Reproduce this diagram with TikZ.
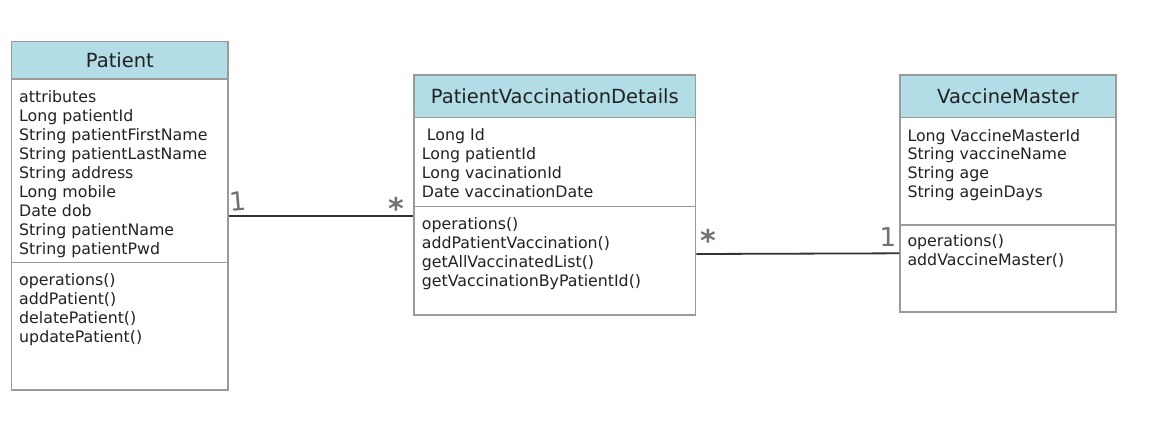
\documentclass[tikz,border=0pt]{standalone}
\usepackage{fontspec}
\setmainfont{DejaVu Sans}
\definecolor{hdrblue}{HTML}{B2DCE6}
\definecolor{boxgray}{HTML}{9A9A9A}
\definecolor{linegray}{HTML}{333333}
\definecolor{txt}{HTML}{222222}
\definecolor{markgray}{HTML}{707070}
\tikzset{
  classbox/.style={draw=boxgray, line width=1.3pt, fill=white, inner sep=0pt},
  hdr/.style={draw=boxgray, line width=1.3pt, fill=hdrblue, inner sep=0pt, text=txt, font=\fontsize{19.5}{22}\selectfont},
  attr/.style={anchor=base west, inner sep=0pt, text=txt, font=\fontsize{15.8}{19}\selectfont},
  divider/.style={draw=boxgray, line width=1.3pt},
  assoc/.style={draw=linegray, line width=1.8pt},
  multone/.style={anchor=base, text=markgray, inner sep=0pt, font=\fontsize{26}{28}\selectfont},
  multstar/.style={anchor=base, text=markgray, inner sep=0pt, font=\fontsize{30}{32}\selectfont\bfseries}
}
\begin{document}
\begin{tikzpicture}[x=1pt,y=-1pt]
\useasboundingbox (0,0) rectangle (1171,432);
% ---------- Patient ----------
\node[classbox, minimum width=216.3pt, minimum height=348.3pt] (patient) at (119.85,215.85) {};
\node[hdr, minimum width=216.3pt, minimum height=37.3pt] (patientH) at (119.85,60.35) {Patient};
\draw[divider] (patient.west |- 0,262.7) -- (patient.east |- 0,262.7);
\foreach \t [count=\i] in {attributes, Long patientId, String patientFirstName, String patientLastName, String address, Long mobile, Date dob, String patientName, String patientPwd}
  \node[attr] (pa\i) at (19,{102+19*(\i-1)}) {\t};
\foreach \t [count=\i] in {operations(), addPatient(), delatePatient(), updatePatient()}
  \node[attr] (po\i) at (19,{285+19*(\i-1)}) {\t};
% ---------- PatientVaccinationDetails ----------
\node[classbox, minimum width=281.7pt, minimum height=240pt] (pvd) at (554.85,195) {};
\node[hdr, minimum width=281.7pt, minimum height=42.7pt] (pvdH) at (554.85,96.35) {PatientVaccinationDetails};
\draw[divider] (pvd.west |- 0,206.7) -- (pvd.east |- 0,206.7);
\node[attr] (va1) at (421.7,140.7) {\ Long Id};
\foreach \t [count=\i from 2] in {Long patientId, Long vacinationId, Date vaccinationDate}
  \node[attr] (va\i) at (421.7,{140.7+18.9*(\i-1)}) {\t};
\foreach \t [count=\i] in {operations(), addPatientVaccination(), getAllVaccinatedList(), getVaccinationByPatientId()}
  \node[attr] (vo\i) at (421.7,{229+19.2*(\i-1)}) {\t};
% ---------- VaccineMaster ----------
\node[classbox, minimum width=216pt, minimum height=237pt] (vm) at (1008,193.5) {};
\node[hdr, minimum width=216pt, minimum height=42.7pt] (vmH) at (1008,96.35) {VaccineMaster};
\draw[divider] (vm.west |- 0,225) -- (vm.east |- 0,225);
\foreach \t [count=\i] in {Long VaccineMasterId, String vaccineName, String age, String ageinDays}
  \node[attr] (ma\i) at (907.3,{141+18.7*(\i-1)}) {\t};
\foreach \t [count=\i] in {operations(), addVaccineMaster()}
  \node[attr] (mo\i) at (907.3,{246+19*(\i-1)}) {\t};
% ---------- associations ----------
\draw[assoc] (patient.east |- 0,215.7) -- (pvd.west |- 0,215.7);
\draw[assoc] (pvd.east |- 0,254) -- (vm.west |- 0,253.3);
\node[multone, rotate=5] (m1) at (239,210.5) {1};
\node[multstar] (m2) at (396,219) {*};
\node[multstar] (m3) at (708,251) {*};
\node[multone] (m4) at (888,246.5) {1};
\end{tikzpicture}
\end{document}
